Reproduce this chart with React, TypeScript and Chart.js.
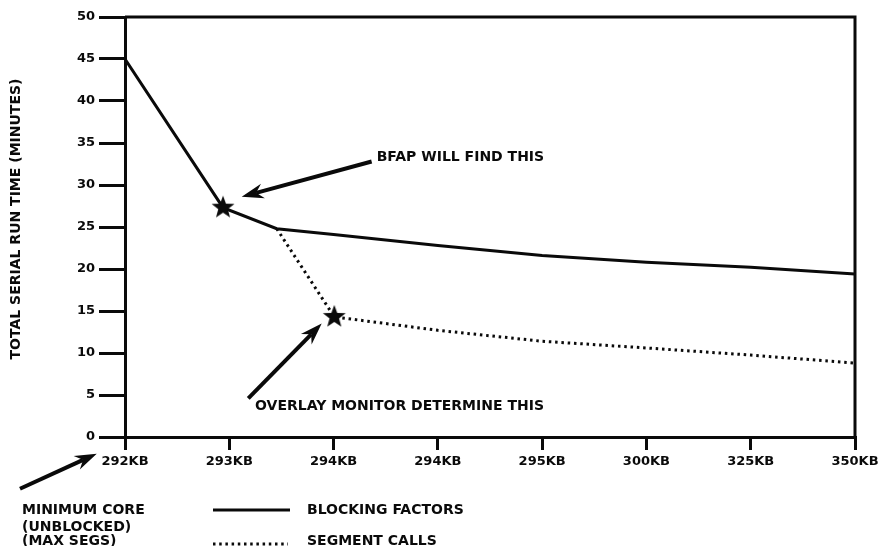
import { useEffect, useRef } from 'react';
import { Chart, registerables } from 'chart.js';

Chart.register(...registerables);

// ---- Data ----
const xLabels = ['292KB', '293KB', '294KB', '294KB', '295KB', '300KB', '325KB', '350KB'];

const blockingX = [0, 0.94, 1.455, 2, 3, 4, 5, 6, 7];
const blockingY = [45, 27.3, 24.8, 24.1, 22.8, 21.6, 20.8, 20.2, 19.4];
const blockingStarIndex = 1;

const segmentX = [1.455, 2.007, 3, 4, 5, 6, 7];
const segmentY = [24.8, 14.3, 12.7, 11.4, 10.6, 9.75, 8.8];
const segmentStarIndex = 1;

const yTitle = 'TOTAL SERIAL RUN TIME (MINUTES)';
const legendLabels = ['BLOCKING FACTORS', 'SEGMENT CALLS'];
const noteBfap = 'BFAP WILL FIND THIS';
const noteOverlay = 'OVERLAY MONITOR DETERMINE THIS';
const noteMinCore = ['MINIMUM CORE', '(UNBLOCKED)', '(MAX SEGS)'];

// annotation anchors in data units (x index, y minutes)
const bfapArrowTail = [2.365, 32.8];
const bfapArrowTip = [1.119, 28.6];
const bfapText = [2.413, 33.3];
const overlayArrowTail = [1.182, 4.6];
const overlayArrowTip = [1.886, 13.5];
const overlayText = [1.247, 3.65];
const minCoreArrowTail = [-1.007, -6.16];
const minCoreArrowTip = [-0.271, -1.98];

const FONT = '"DejaVu Sans", "Liberation Sans", Arial, sans-serif';
const INK = '#0a0a0a';

function makeStar(outer: number, inner: number) {
  const size = Math.ceil(outer * 2 + 2);
  const c = document.createElement('canvas');
  c.width = size;
  c.height = size;
  const g = c.getContext('2d')!;
  const cx = size / 2;
  const cy = size / 2;
  g.beginPath();
  for (let i = 0; i < 10; i++) {
    const r = i % 2 === 0 ? outer : inner;
    const a = -Math.PI / 2 + (i * Math.PI) / 5;
    const px = cx + r * Math.cos(a);
    const py = cy + r * Math.sin(a);
    if (i === 0) g.moveTo(px, py);
    else g.lineTo(px, py);
  }
  g.closePath();
  g.fillStyle = INK;
  g.fill();
  return c;
}

function drawArrow(ctx: CanvasRenderingContext2D, x1: number, y1: number, x2: number, y2: number) {
  const dx = x2 - x1;
  const dy = y2 - y1;
  const len = Math.hypot(dx, dy);
  const ux = dx / len;
  const uy = dy / len;
  const px = -uy;
  const py = ux;
  const headL = 22;
  const headW = 7.5;
  const notch = 15;
  ctx.save();
  ctx.strokeStyle = INK;
  ctx.fillStyle = INK;
  ctx.lineWidth = 4;
  ctx.lineCap = 'butt';
  ctx.beginPath();
  ctx.moveTo(x1, y1);
  ctx.lineTo(x2 - ux * notch, y2 - uy * notch);
  ctx.stroke();
  ctx.beginPath();
  ctx.moveTo(x2, y2);
  ctx.lineTo(x2 - ux * headL + px * headW, y2 - uy * headL + py * headW);
  ctx.lineTo(x2 - ux * notch, y2 - uy * notch);
  ctx.lineTo(x2 - ux * headL - px * headW, y2 - uy * headL - py * headW);
  ctx.closePath();
  ctx.fill();
  ctx.restore();
}

const annotationPlugin = {
  id: 'annotations',
  afterDraw(chart: any) {
    const ctx: CanvasRenderingContext2D = chart.ctx;
    const xs = chart.scales.x;
    const ys = chart.scales.y;
    const area = chart.chartArea;
    const X = (v: number) => xs.getPixelForValue(v);
    const Y = (v: number) => ys.getPixelForValue(v);

    ctx.save();
    // frame: top and right border
    ctx.strokeStyle = INK;
    ctx.lineWidth = 3;
    ctx.beginPath();
    ctx.moveTo(area.left, area.top);
    ctx.lineTo(area.right, area.top);
    ctx.lineTo(area.right, area.bottom);
    ctx.stroke();

    // arrows
    drawArrow(ctx, X(bfapArrowTail[0]), Y(bfapArrowTail[1]), X(bfapArrowTip[0]), Y(bfapArrowTip[1]));
    drawArrow(ctx, X(overlayArrowTail[0]), Y(overlayArrowTail[1]), X(overlayArrowTip[0]), Y(overlayArrowTip[1]));
    drawArrow(ctx, X(minCoreArrowTail[0]), Y(minCoreArrowTail[1]), X(minCoreArrowTip[0]), Y(minCoreArrowTip[1]));

    ctx.fillStyle = INK;
    ctx.font = `bold 14px ${FONT}`;
    ctx.textBaseline = 'middle';
    ctx.textAlign = 'left';
    ctx.fillText(noteBfap, X(bfapText[0]), Y(bfapText[1]));
    ctx.fillText(noteOverlay, X(overlayText[0]), Y(overlayText[1]));

    // minimum core note
    const mcx = 22;
    const mcy = [510, 527, 541];
    noteMinCore.forEach((t, i) => ctx.fillText(t, mcx, mcy[i]));

    // legend
    const legX0 = 213;
    const legX1 = 290;
    const legTextX = 307;
    ctx.fillText(legendLabels[0], legTextX, 510);
    ctx.fillText(legendLabels[1], legTextX, 541);
    ctx.lineWidth = 3;
    ctx.beginPath();
    ctx.moveTo(legX0, 510);
    ctx.lineTo(legX1, 510);
    ctx.stroke();
    ctx.setLineDash([2.5, 3.7]);
    ctx.beginPath();
    ctx.moveTo(legX0, 544);
    ctx.lineTo(legX1 - 2, 544);
    ctx.stroke();
    ctx.setLineDash([]);

    // y axis title
    ctx.save();
    ctx.translate(16.5, 219);
    ctx.rotate(-Math.PI / 2);
    ctx.textAlign = 'center';
    ctx.fillText(yTitle, 0, 0);
    ctx.restore();

    ctx.restore();
  },
};

export default function App() {
  const ref = useRef<HTMLCanvasElement | null>(null);

  useEffect(() => {
    const star = makeStar(12, 5);
    const blockingData = blockingX.map((x, i) => ({ x, y: blockingY[i] }));
    const segmentData = segmentX.map((x, i) => ({ x, y: segmentY[i] }));

    const chart = new Chart(ref.current!, {
      type: 'line',
      data: {
        datasets: [
          {
            label: legendLabels[1],
            data: segmentData,
            borderColor: INK,
            borderWidth: 3,
            borderDash: [2.5, 3.8],
            borderCapStyle: 'butt',
            tension: 0,
            fill: false,
            pointStyle: star as any,
            pointRadius: segmentX.map((_, i) => (i === segmentStarIndex ? 6 : 0)),
            pointHoverRadius: 0,
          },
          {
            label: legendLabels[0],
            data: blockingData,
            borderColor: INK,
            borderWidth: 3,
            tension: 0,
            fill: false,
            pointStyle: star as any,
            pointRadius: blockingX.map((_, i) => (i === blockingStarIndex ? 6 : 0)),
            pointHoverRadius: 0,
          },
        ],
      },
      options: {
        responsive: false,
        animation: false,
        devicePixelRatio: 1,
        events: [],
        layout: { padding: { left: 0, top: 17, right: 23, bottom: 0 } },
        plugins: {
          legend: { display: false },
          tooltip: { enabled: false },
          title: { display: false },
        },
        scales: {
          x: {
            type: 'linear',
            min: 0,
            max: 7,
            afterFit: (s: any) => {
              s.height = 109;
              s.paddingLeft = 0;
              s.paddingRight = 0;
            },
            ticks: {
              stepSize: 1,
              autoSkip: false,
              maxRotation: 0,
              minRotation: 0,
              padding: 4,
              color: INK,
              font: { family: FONT, weight: 'bold', size: 13 },
              callback: (v: any) => xLabels[Number(v)] ?? '',
            },
            grid: {
              drawOnChartArea: false,
              drawTicks: true,
              tickLength: 13,
              lineWidth: 3,
              color: INK,
            },
            border: { display: true, width: 3, color: INK },
          },
          y: {
            type: 'linear',
            min: 0,
            max: 50,
            afterFit: (s: any) => {
              s.width = 125;
              s.paddingTop = 0;
              s.paddingBottom = 0;
            },
            ticks: {
              stepSize: 5,
              padding: 4,
              color: INK,
              font: { family: FONT, weight: 'bold', size: 13 },
            },
            grid: {
              drawOnChartArea: false,
              drawTicks: true,
              tickLength: 26,
              lineWidth: 3,
              color: INK,
            },
            border: { display: true, width: 3, color: INK },
          },
        },
      },
      plugins: [annotationPlugin],
    });
    return () => chart.destroy();
  }, []);

  return (
    <div style={{ position: 'absolute', left: 0, top: 0, width: 878, height: 546, background: '#fff' }}>
      <canvas ref={ref} width={878} height={546} style={{ display: 'block', width: 878, height: 546 }} />
    </div>
  );
}
